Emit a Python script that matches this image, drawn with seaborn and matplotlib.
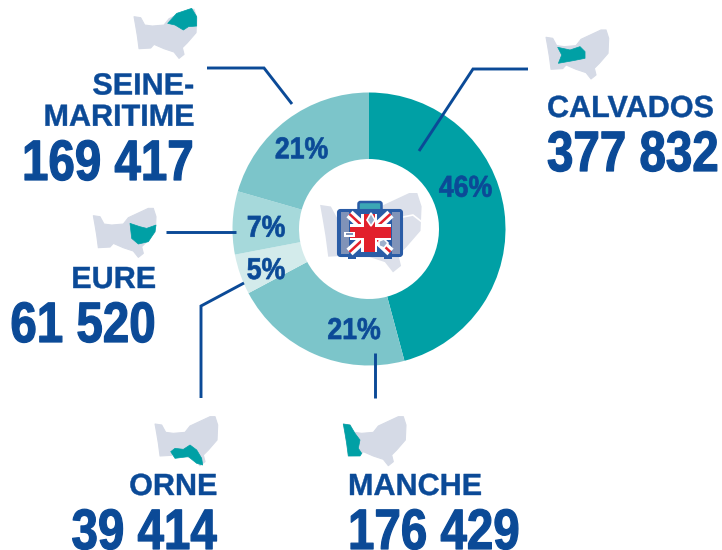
import matplotlib
matplotlib.use("Agg")
import matplotlib.pyplot as plt
from matplotlib.patches import Polygon, Rectangle, FancyBboxPatch
from matplotlib.patheffects import AbstractPathEffect
from matplotlib.transforms import Affine2D
import seaborn as sns

departments = ["CALVADOS", "MANCHE", "ORNE", "EURE", "SEINE-\nMARITIME"]
visitors = [377832, 176429, 39414, 61520, 169417]
shares = [46, 21, 5, 7, 21]
wedge_colors = ["#00A0A5", "#7CC5CA", "#D3EBEB", "#A6D9DB", "#7CC5CA"]

BLUE = "#0B4A97"
TEAL = "#00A0A5"
GREY = "#D5DAE6"


class Stretch(AbstractPathEffect):
    """Draws real text taller and heavier than its font; dy moves it down in pixels."""
    def __init__(self, sy=1.0, dy=0.0, stroke=0.0):
        super().__init__()
        self.sy, self.dy, self.stroke = sy, dy, stroke

    def draw_path(self, renderer, gc, tpath, affine, rgbFace=None):
        new = Affine2D().scale(1, self.sy) + affine + Affine2D().translate(0, -self.dy)
        gc0 = renderer.new_gc()
        gc0.copy_properties(gc)
        gc0.set_foreground(rgbFace)
        gc0.set_linewidth(self.stroke)
        renderer.draw_path(gc0, tpath, new, rgbFace)
        gc0.restore()


sns.set_theme(style="white")
fig = plt.figure(figsize=(7.22, 5.5), dpi=100, facecolor="white")
ax = fig.add_axes([0, 0, 1, 1])

CX, CY, R_OUT, R_IN = 369, 229, 136.5, 70
ax.pie(visitors, colors=sns.color_palette(wedge_colors), startangle=270, counterclock=True,
       center=(CX, CY), radius=R_OUT, wedgeprops=dict(width=R_OUT - R_IN, linewidth=0))
ax.set_xlim(0, 722)
ax.set_ylim(550, 0)
ax.axis("off")

# ---- map icons (drawn shapes, local outline units) ----
outline = [(40,72),(60,75),(72,97),(95,100),(130,97),(145,78),(205,50),(220,50),(228,75),(226,120),
           (200,150),(185,165),(190,185),(175,197),(160,178),(130,168),(100,155),(90,166),(55,168),(50,130),(45,100)]
regions = {
    "MANCHE": [(40,72),(60,75),(75,100),(90,120),(85,145),(95,160),(90,168),(55,168),(50,130),(45,100)],
    "SEINE": [(141,92),(168,62),(213,47),(228,72),(228,100),(203,102),(188,112),(163,97)],
    "CALVADOS": [(75,102),(112,110),(142,100),(157,115),(157,135),(122,142),(77,150),(87,125)],
    "EURE": [(150,95),(180,105),(200,110),(228,100),(225,120),(205,150),(175,157),(155,140)],
    "ORNE": [(87,155),(100,145),(125,148),(145,135),(165,150),(180,175),(183,195),(165,190),(140,170),(100,175)],
}
origins = {"MANCHE": (330, 400), "SEINE": (120.7, -7.3), "CALVADOS": (532.7, 13.3),
           "EURE": (80, 191.7), "ORNE": (141.7, 400)}

def place(pts, ox, oy, s=1/3):
    return [(ox + x * s, oy + y * s) for x, y in pts]

for key, (ox, oy) in origins.items():
    ax.add_patch(Polygon(place(outline, ox, oy), fc=GREY, ec=GREY, lw=0.8, joinstyle="round", zorder=2))
    ax.add_patch(Polygon(place(regions[key], ox, oy), fc=TEAL, ec=TEAL, lw=0.5, joinstyle="round", zorder=3))

# centre silhouette
ax.add_patch(Polygon(place(outline, 298.5, 166, 0.54), fc="#DCE0EA", ec="none", zorder=2))
ax.plot([403, 413, 422], [217, 215, 222], color="white", lw=1.2, zorder=3)

# ---- suitcase ----
ax.add_patch(FancyBboxPatch((358.5, 202), 23, 10, boxstyle="round,pad=0,rounding_size=2",
                            fc="#3BA7B5", ec="#2A5CA6", lw=1.8, zorder=4))
ax.add_patch(FancyBboxPatch((338, 210), 64, 46, boxstyle="round,pad=0,rounding_size=2.5",
                            fc="#2A5CA6", ec="#2A5CA6", lw=1.5, zorder=5))
for x0 in (340.5, 391.5):
    ax.add_patch(Rectangle((x0, 212), 8, 42, fc="#8093B8", ec="none", zorder=6))
for x0 in (348, 384):
    ax.add_patch(Rectangle((x0, 256), 8, 2.5, fc="#2A5CA6", ec="none", zorder=5))

fx0, fy0, fx1, fy1 = 349.5, 214, 390.5, 252
mx, my = 369, 232
ax.add_patch(Rectangle((fx0, fy0), fx1 - fx0, fy1 - fy0, fc="#2A5CA6", ec="none", zorder=6))
for (a, b) in (((fx0, fy0), (fx1, fy1)), ((fx0, fy1), (fx1, fy0))):
    ax.plot([a[0], b[0]], [a[1], b[1]], color="white", lw=6.5, zorder=7, solid_capstyle="butt")
    ax.plot([a[0], b[0]], [a[1], b[1]], color="#E2202C", lw=1.8, zorder=8, solid_capstyle="butt")
ax.add_patch(Rectangle((mx - 8, fy0), 16, fy1 - fy0, fc="white", ec="none", zorder=9))
ax.add_patch(Rectangle((fx0, my - 8), fx1 - fx0, 16, fc="white", ec="none", zorder=9))
ax.add_patch(Rectangle((mx - 5.5, fy0), 11, fy1 - fy0, fc="#E2202C", ec="none", zorder=10))
ax.add_patch(Rectangle((fx0, my - 5.5), fx1 - fx0, 11, fc="#E2202C", ec="none", zorder=10))
ax.add_patch(Polygon([(371, 213), (375, 220), (371, 226), (367, 220)], fc="#9DB0CC", ec="white", lw=1.2, zorder=11))
ax.add_patch(Rectangle((344, 231.5), 11, 5.5, fc="white", ec="none", zorder=11))
ax.add_patch(Rectangle((346, 233.2), 7, 1.6, fc="#7F93B8", ec="none", zorder=12))
ax.add_patch(Polygon([(379, 241), (384, 239), (388, 243), (384, 248), (379, 246)], fc="#9DB0CC", ec="white", lw=1.2, zorder=11))

# ---- leader lines ----
leaders = [
    ([528, 473, 419], [69, 69, 151]),
    ([207, 264, 292], [68, 68, 104]),
    ([166, 236], [232, 232]),
    ([201, 201, 244], [398, 306, 283]),
    ([375, 375], [353, 398]),
]
for xs, ys in leaders:
    ax.plot(xs, ys, color=BLUE, lw=2.1, zorder=4, solid_joinstyle="miter", solid_capstyle="butt")

# ---- text ----
SANS = ["Liberation Sans"]

def fmt(v):
    return f"{v:,}".replace(",", " ")

pct_pos = [(465.5, 196.7), (354, 339), (266, 279), (266, 236.7), (301.5, 158.3)]
for (x, y), s in zip(pct_pos, shares):
    ax.text(x, y, f"{s}%", color=BLUE, family=SANS, weight="bold", fontsize=19.2,
            ha="center", va="baseline", zorder=6, path_effects=[Stretch(sy=1.13, stroke=0.5)])

name_pos = [(547, 117, "left"), (348, 495, "left"), (217, 495, "right"), (156, 288, "right"), (194, 94.5, "right")]
num_pos = [(547, 171, 0), (348, 539, 10), (217, 539, 10), (156, 342, 0), (194, 180, 0)]
for name, (x, y, ha), v, (nx, ny, dy) in zip(departments, name_pos, visitors, num_pos):
    lines = name.split("\n")
    for i, line in enumerate(lines):
        ax.text(x, y + i * 31.3, line, color=BLUE, family=SANS, weight="bold", fontsize=22,
                ha=ha, va="baseline", zorder=6, path_effects=[Stretch(stroke=0.3)])
    ax.text(nx, ny, fmt(v), color=BLUE, family=SANS, weight="bold", fontsize=34.2,
            ha=ha, va="baseline", zorder=6, path_effects=[Stretch(sy=1.2, dy=dy, stroke=0.9)])

fig.savefig("out.png", dpi=100, facecolor="white")
